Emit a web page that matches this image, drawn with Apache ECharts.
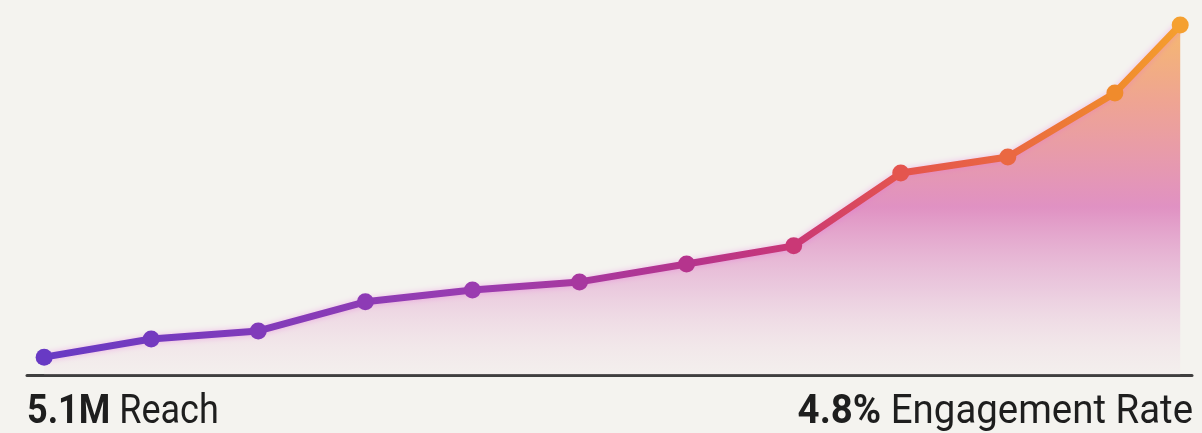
<!DOCTYPE html>
<html>
<head>
<meta charset="utf-8">
<script src="https://cdn.jsdelivr.net/npm/echarts@6/dist/echarts.min.js"></script>
<style>
  html, body { margin: 0; padding: 0; background: #f4f3ef; }
  #main-chart { width: 1202px; height: 433px; }
</style>
</head>
<body>
<div id="main-chart"></div>
<script>
// positions along the timeline (the last step is shorter)
const steps = [0, 1, 2, 3, 4, 5, 6, 7, 8, 9, 10, 10.61];
const growth = [5.1, 10.3, 12.6, 20.9, 24.3, 26.6, 31.7, 36.9, 57.7, 62.3, 80.6, 100];
const reachLabel = ['5.1M', 'Reach'];
const engagementLabel = ['4.8%', 'Engagement Rate'];

// colour stops along the line, by x offset 0..1
const lineStops = [
    [0.00, [104, 58, 196]],
    [0.38, [154, 60, 176]],
    [0.57, [182, 52, 140]],
    [0.66, [202, 56, 118]],
    [0.75, [228, 84, 78]],
    [0.85, [234, 104, 66]],
    [0.94, [240, 138, 44]],
    [1.00, [245, 160, 48]]
];

function colorAt(t) {
    for (let i = 1; i < lineStops.length; i++) {
        const [o1, c1] = lineStops[i];
        const [o0, c0] = lineStops[i - 1];
        if (t <= o1) {
            const k = (t - o0) / (o1 - o0);
            const c = c0.map((v, j) => Math.round(v + (c1[j] - v) * k));
            return `rgb(${c.join(',')})`;
        }
    }
    const c = lineStops[lineStops.length - 1][1];
    return `rgb(${c.join(',')})`;
}

document.addEventListener("DOMContentLoaded", () => {
    const chartContainer = document.getElementById('main-chart');
    const myChart = echarts.init(chartContainer);
    const lastStep = steps[steps.length - 1];

    const textRich = {
        b: { fontFamily: 'Roboto', fontWeight: 'bold', fontSize: 40, fill: '#1e1e1e' },
        r: { fontFamily: 'Roboto', fontSize: 40, fill: '#1e1e1e', padding: [0, 0, 0, 10] }
    };

    const option = {
        backgroundColor: '#f4f3ef',
        animation: false,
        grid: { left: 27, right: 10, top: 25, bottom: 58 },
        xAxis: {
            type: 'value',
            min: -0.16,
            max: 10.72,
            axisLine: { show: true, lineStyle: { color: '#3f3f3f', width: 3 } },
            axisTick: { show: false },
            axisLabel: { show: false },
            splitLine: { show: false }
        },
        yAxis: {
            type: 'value',
            min: 0,
            max: 100,
            show: false
        },
        series: [{
            type: 'line',
            data: steps.map((s, i) => [s, growth[i]]),
            symbol: 'circle',
            symbolSize: 17,
            lineStyle: {
                width: 7,
                color: new echarts.graphic.LinearGradient(0, 0, 1, 0,
                    lineStops.map(([o, c]) => ({ offset: o, color: `rgb(${c.join(',')})` }))),
                shadowBlur: 6,
                shadowColor: 'rgba(230, 100, 220, 0.4)'
            },
            itemStyle: {
                color: (p) => colorAt(steps[p.dataIndex] / lastStep)
            },
            areaStyle: {
                origin: 'start',
                color: new echarts.graphic.LinearGradient(0, 0, 0, 1, [
                    { offset: 0, color: 'rgba(246, 160, 55, 1)' },
                    { offset: 0.22, color: 'rgba(236, 124, 100, 0.95)' },
                    { offset: 0.52, color: 'rgba(214, 96, 172, 0.95)' },
                    { offset: 0.75, color: 'rgba(220, 140, 196, 0.58)' },
                    { offset: 1, color: 'rgba(240, 215, 225, 0.2)' }
                ])
            }
        }],
        graphic: [
            {
                type: 'text',
                x: 27,
                y: 393,
                scaleX: 0.9,
                style: {
                    text: `{b|${reachLabel[0]}}{r|${reachLabel[1]}}`,
                    rich: textRich
                }
            },
            {
                type: 'text',
                x: 1193,
                y: 393,
                scaleX: 0.96,
                style: {
                    text: `{b|${engagementLabel[0]}}{r|${engagementLabel[1]}}`,
                    align: 'right',
                    rich: textRich
                }
            }
        ]
    };
    myChart.setOption(option);
});
</script>
</body>
</html>
